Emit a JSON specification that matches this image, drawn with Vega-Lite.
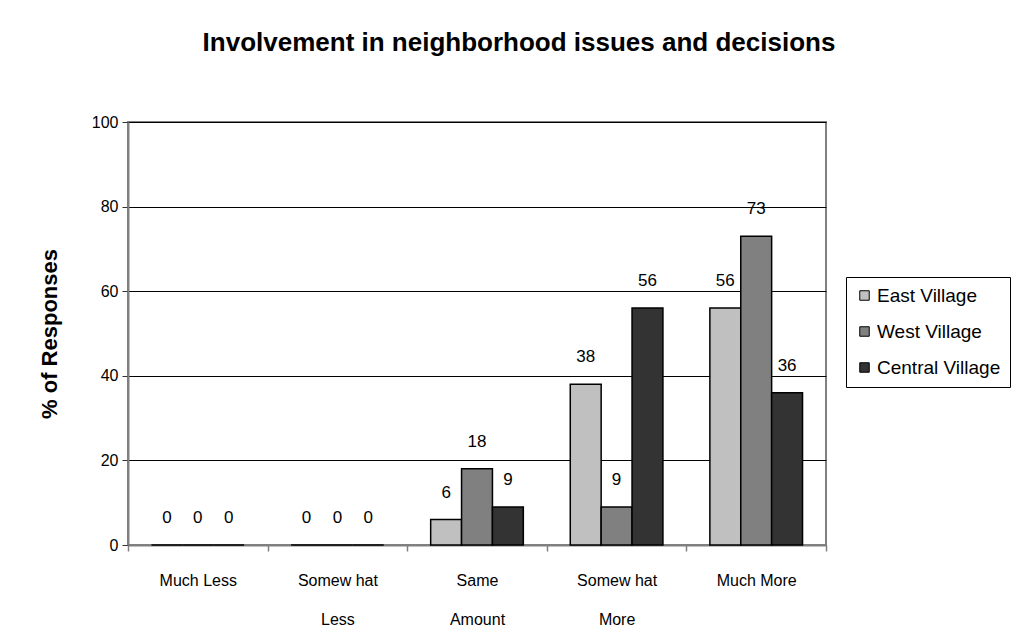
{
  "$schema": "https://vega.github.io/schema/vega-lite/v6.json",
  "autosize": "none",
  "width": 698,
  "height": 423,
  "padding": {"left": 128, "top": 122, "right": 190, "bottom": 97},
  "background": "white",
  "title": {
    "text": "Involvement  in neighborhood issues and decisions",
    "anchor": "middle",
    "frame": "group",
    "font": "Liberation Sans",
    "fontSize": 26,
    "fontWeight": "bold",
    "color": "black",
    "baseline": "alphabetic",
    "dx": 42,
    "offset": 37
  },
  "data": {
    "values": [
      {"category": "Much Less", "village": "East Village", "pct": 0},
      {"category": "Much Less", "village": "West Village", "pct": 0},
      {"category": "Much Less", "village": "Central Village", "pct": 0},
      {"category": "Somew hat\nLess", "village": "East Village", "pct": 0},
      {"category": "Somew hat\nLess", "village": "West Village", "pct": 0},
      {"category": "Somew hat\nLess", "village": "Central Village", "pct": 0},
      {"category": "Same\nAmount", "village": "East Village", "pct": 6},
      {"category": "Same\nAmount", "village": "West Village", "pct": 18},
      {"category": "Same\nAmount", "village": "Central Village", "pct": 9},
      {"category": "Somew hat\nMore", "village": "East Village", "pct": 38},
      {"category": "Somew hat\nMore", "village": "West Village", "pct": 9},
      {"category": "Somew hat\nMore", "village": "Central Village", "pct": 56},
      {"category": "Much More", "village": "East Village", "pct": 56},
      {"category": "Much More", "village": "West Village", "pct": 73},
      {"category": "Much More", "village": "Central Village", "pct": 36}
    ]
  },
  "encoding": {
    "x": {
      "field": "category",
      "type": "nominal",
      "sort": ["Much Less", "Somew hat\nLess", "Same\nAmount", "Somew hat\nMore", "Much More"],
      "scale": {"paddingInner": 0, "paddingOuter": 0},
      "axis": {
        "title": null,
        "labelAngle": 0,
        "tickBand": "extent",
        "labelExpr": "isString(datum.value) ? split(datum.value, '\\n') : ''",
        "labelFont": "Liberation Sans",
        "labelFontSize": 16,
        "labelColor": "black",
        "labelLineHeight": 39,
        "labelPadding": 21,
        "tickSize": 6,
        "tickColor": "#808080",
        "tickWidth": 1.5,
        "domainColor": "#808080",
        "domainWidth": 2,
        "grid": false
      }
    },
    "xOffset": {
      "field": "village",
      "sort": ["East Village", "West Village", "Central Village"],
      "scale": {"paddingInner": 0, "paddingOuter": 0.76}
    },
    "y": {
      "field": "pct",
      "type": "quantitative",
      "scale": {"domain": [0, 100], "nice": false},
      "axis": {
        "title": "% of Responses",
        "titleFont": "Liberation Sans",
        "titleFontSize": 22,
        "titleFontWeight": "bold",
        "titleColor": "black",
        "titlePadding": 30,
        "values": [0, 20, 40, 60, 80, 100],
        "labelFont": "Liberation Sans",
        "labelFontSize": 16,
        "labelColor": "black",
        "labelPadding": 4,
        "tickSize": 6,
        "tickColor": "#333333",
        "domainColor": "#808080",
        "domainWidth": 2,
        "grid": true,
        "gridColor": "black",
        "gridWidth": 1,
        "gridOpacity": 1
      }
    },
    "color": {
      "field": "village",
      "type": "nominal",
      "sort": ["East Village", "West Village", "Central Village"],
      "scale": {"range": ["#C0C0C0", "#808080", "#333333"]},
      "legend": {
        "title": null,
        "orient": "none",
        "legendX": 718,
        "legendY": 155,
        "direction": "vertical",
        "padding": 9,
        "strokeColor": "black",
        "fillColor": "white",
        "symbolType": "square",
        "symbolSize": 90,
        "symbolStrokeColor": "black",
        "symbolStrokeWidth": 1,
        "labelFont": "Liberation Sans",
        "labelFontSize": 19,
        "labelColor": "black",
        "labelOffset": 3,
        "rowPadding": 16
      }
    }
  },
  "layer": [
    {
      "mark": {"type": "bar", "stroke": "black", "strokeWidth": 1.5}
    },
    {
      "mark": {
        "type": "text",
        "baseline": "middle",
        "dy": -27,
        "font": "Liberation Sans",
        "fontSize": 17,
        "color": "black"
      },
      "encoding": {
        "text": {"field": "pct", "type": "quantitative"},
        "color": {"value": "black"}
      }
    }
  ],
  "config": {
    "view": {"stroke": "#808080", "strokeWidth": 2}
  }
}
